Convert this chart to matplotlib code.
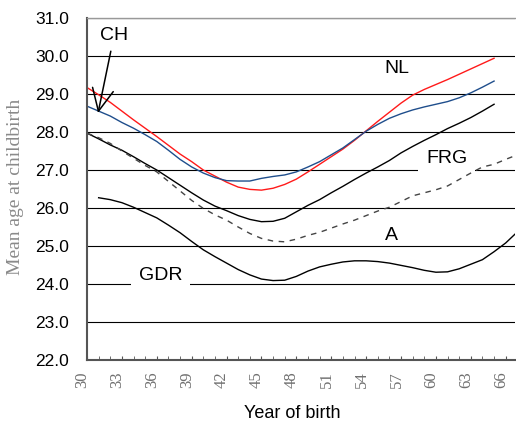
import matplotlib
matplotlib.use("Agg")
import matplotlib.pyplot as plt
import matplotlib.transforms as mtransforms

# year of birth (19xx)
years_main = list(range(30, 66))
years_a = list(range(30, 68))
years_gdr = list(range(31, 68))

nl = [29.17, 28.98, 28.78, 28.55, 28.32, 28.10, 27.88, 27.65, 27.42, 27.22,
      27.00, 26.84, 26.68, 26.55, 26.49, 26.47, 26.52, 26.62, 26.76, 26.95,
      27.15, 27.35, 27.55, 27.78, 28.03, 28.28, 28.52, 28.76, 28.97, 29.12,
      29.25, 29.38, 29.52, 29.66, 29.80, 29.94]
ch = [28.68, 28.55, 28.42, 28.25, 28.10, 27.93, 27.75, 27.52, 27.28, 27.08,
      26.92, 26.80, 26.72, 26.71, 26.71, 26.78, 26.83, 26.87, 26.95, 27.08,
      27.22, 27.40, 27.58, 27.80, 28.02, 28.20, 28.36, 28.48, 28.58, 28.66,
      28.73, 28.80, 28.90, 29.03, 29.18, 29.34]
frg = [27.97, 27.82, 27.66, 27.52, 27.35, 27.17, 27.00, 26.80, 26.60, 26.40,
       26.21, 26.05, 25.93, 25.80, 25.70, 25.64, 25.65, 25.73, 25.90, 26.07,
       26.22, 26.40, 26.57, 26.75, 26.92, 27.08, 27.25, 27.45, 27.62, 27.78,
       27.93, 28.09, 28.23, 28.38, 28.55, 28.73]
austria = [27.97, 27.85, 27.70, 27.50, 27.31, 27.12, 26.95, 26.70, 26.45, 26.20,
           25.99, 25.82, 25.68, 25.50, 25.33, 25.20, 25.13, 25.11, 25.18, 25.28,
           25.36, 25.47, 25.58, 25.68, 25.80, 25.92, 26.02, 26.17, 26.32, 26.40,
           26.48, 26.58, 26.75, 26.92, 27.08, 27.15, 27.28, 27.40]
gdr = [26.27, 26.22, 26.14, 26.02, 25.88, 25.74, 25.55, 25.35, 25.12, 24.90,
       24.72, 24.55, 24.38, 24.24, 24.13, 24.09, 24.10, 24.20, 24.34, 24.45,
       24.52, 24.58, 24.61, 24.61, 24.59, 24.55, 24.49, 24.43, 24.36, 24.31,
       24.32, 24.40, 24.52, 24.64, 24.85, 25.08, 25.37]

x_ticks = list(range(30, 67, 3))
y_ticks = [22.0, 23.0, 24.0, 25.0, 26.0, 27.0, 28.0, 29.0, 30.0, 31.0]


fig = plt.figure(figsize=(5.16, 4.29), dpi=100)
ax = fig.add_axes([87 / 516, 1 - 360 / 429, 428 / 516, 342 / 429])

ax.plot(years_main, nl, color="#ff1a1a", lw=1.0)
ax.plot(years_main, ch, color="#1f4e8c", lw=1.0)
ax.plot(years_main, frg, color="black", lw=1.0)
ax.plot(years_a, austria, color="#444444", lw=1.0, linestyle=(0, (4, 4)))
ax.plot(years_gdr, gdr, color="black", lw=1.0)

ax.set_xlim(30, 66.8)
ax.set_ylim(22, 31)

# horizontal grid
ax.set_axisbelow(True)
ax.set_yticks(y_ticks)
ax.set_yticklabels([f"{v:.1f}" for v in y_ticks], fontsize=12.5,
                   family="Liberation Sans")
ax.grid(axis="y", color="black", lw=0.8)
ax.tick_params(axis="y", length=0, pad=13)

ax.set_xticks(x_ticks)
ax.set_xticks(range(30, 67), minor=True)
ax.set_xticklabels([str(v) for v in x_ticks], rotation=90, fontsize=12,
                   family="Liberation Serif", color="#707070")
ax.tick_params(axis="x", which="both", direction="in", length=3,
               color="#555555", pad=8)
offset = mtransforms.ScaledTranslation(-0.045, 0, fig.dpi_scale_trans)
for lab in ax.get_xticklabels():
    lab.set_transform(lab.get_transform() + offset)

ax.spines["right"].set_visible(False)
ax.spines["top"].set_color("#999999")
ax.spines["top"].set_linewidth(1.0)
for side in ["left", "bottom"]:
    ax.spines[side].set_color("#555555")
    ax.spines[side].set_linewidth(1.5)

# labels of the series (boxes only hide the gridlines, not the curves)
box = dict(boxstyle="square,pad=0.4", facecolor="white", edgecolor="none")
txt = dict(fontsize=14, family="Liberation Sans", ha="center", va="center")
ax.text(56.65, 29.66, "NL", **txt)
ax.text(60.93, 27.3, "FRG", bbox=box, zorder=1.5, **txt)
ax.text(56.2, 25.28, "A", **txt)
ax.text(36.3, 24.22, "GDR", bbox=box, zorder=1.5, **txt)
ax.annotate("CH", xy=(30.95, 28.5), xytext=(32.32, 30.53), **txt,
            arrowprops=dict(arrowstyle="->,head_length=0.8,head_width=0.38",
                            lw=1.1, color="black", mutation_scale=20,
                            shrinkA=3, shrinkB=0))

fig.text(16 / 516, 1 - 187 / 429, "Mean age at childbirth", rotation=90,
         ha="center", va="center", fontsize=14, family="Liberation Serif",
         color="#8a8a8a")
fig.text(292 / 516, 1 - 414 / 429, "Year of birth", ha="center", va="center",
         fontsize=13, family="Liberation Sans")

fig.savefig("out.png", dpi=100)
